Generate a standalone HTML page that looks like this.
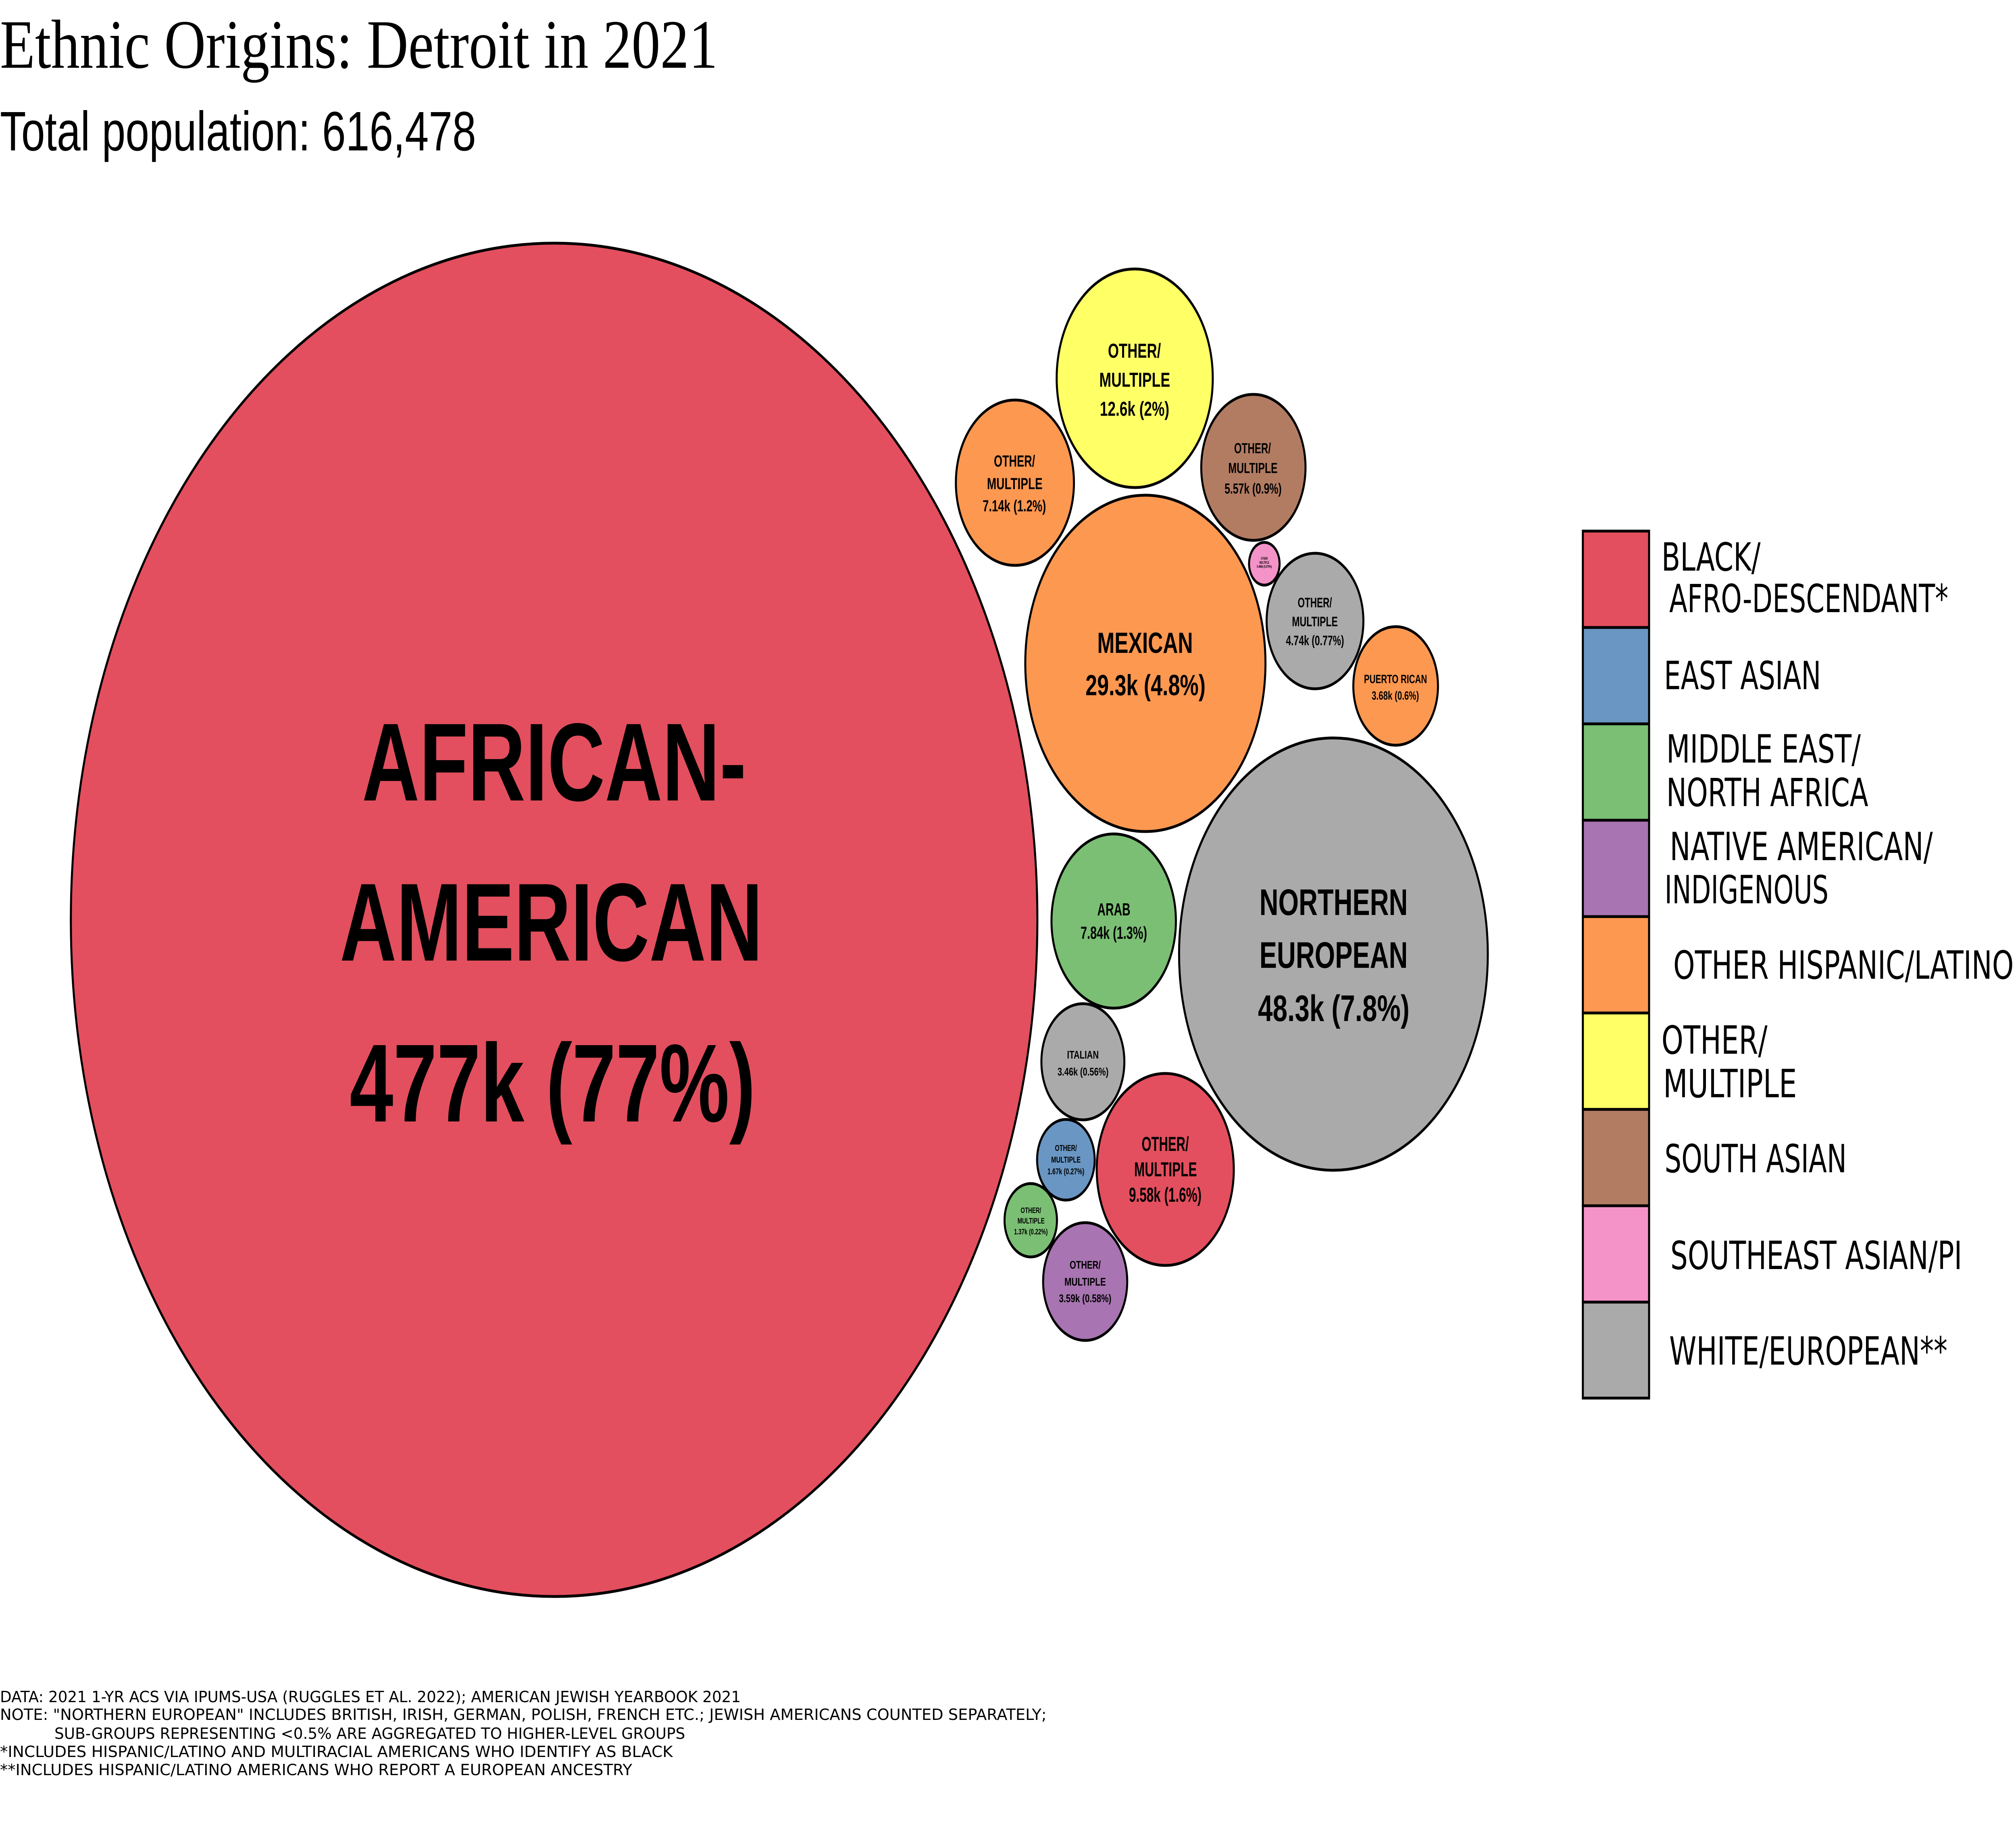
<!DOCTYPE html>
<html><head><meta charset="utf-8"><style>html,body{margin:0;padding:0;background:#fff;width:100%;height:100%;overflow:hidden}svg{display:block;width:100vw;height:100vh}</style></head>
<body>
<svg viewBox="0 0 7000 4543" preserveAspectRatio="none" xmlns="http://www.w3.org/2000/svg">
<rect width="7000" height="4543" fill="#fff"/>
<text x="0" y="168" font-family="Liberation Serif, serif" font-size="172" textLength="2492" lengthAdjust="spacingAndGlyphs">Ethnic Origins: Detroit in 2021</text>
<text x="0" y="373" font-family="Liberation Sans, sans-serif" font-size="138" textLength="1653" lengthAdjust="spacingAndGlyphs">Total population: 616,478</text>

<g stroke="#000" stroke-width="7">
<circle cx="1924" cy="2281" r="1678" fill="#e34f5e"/>
<circle cx="3940" cy="938" r="271" fill="#ffff66"/>
<circle cx="3524" cy="1197" r="205" fill="#fd9851"/>
<circle cx="4352" cy="1159" r="181" fill="#b27c63"/>
<circle cx="4390" cy="1398" r="53" fill="#f493c8"/>
<circle cx="4566" cy="1540" r="168" fill="#aaaaaa"/>
<circle cx="4846" cy="1701" r="147" fill="#fd9851"/>
<circle cx="3977" cy="1645" r="417" fill="#fd9851"/>
<circle cx="4630" cy="2366" r="536" fill="#aaaaaa"/>
<circle cx="3867" cy="2284" r="216" fill="#7bbf74"/>
<circle cx="3760" cy="2633" r="144" fill="#aaaaaa"/>
<circle cx="4046" cy="2900" r="238" fill="#e34f5e"/>
<circle cx="3701" cy="2876" r="100" fill="#6a96c3"/>
<circle cx="3579" cy="3026" r="91" fill="#7bbf74"/>
<circle cx="3768" cy="3178" r="146" fill="#a874b1"/>
</g>

<g font-family="Liberation Sans, Arial, sans-serif" font-weight="bold" fill="#000">
<text x="1257" y="1985" font-size="275" textLength="1334" lengthAdjust="spacingAndGlyphs">AFRICAN-</text>
<text x="1180" y="2382" font-size="275" textLength="1468" lengthAdjust="spacingAndGlyphs">AMERICAN</text>
<text x="1214" y="2781" font-size="275" textLength="1409" lengthAdjust="spacingAndGlyphs">477k (77%)</text>

<text x="3847" y="887" font-size="50" textLength="184" lengthAdjust="spacingAndGlyphs">OTHER/</text>
<text x="3817" y="959" font-size="50" textLength="246" lengthAdjust="spacingAndGlyphs">MULTIPLE</text>
<text x="3819" y="1031" font-size="50" textLength="241" lengthAdjust="spacingAndGlyphs">12.6k (2%)</text>

<text x="3451" y="1157" font-size="40" textLength="143" lengthAdjust="spacingAndGlyphs">OTHER/</text>
<text x="3427" y="1213" font-size="40" textLength="193" lengthAdjust="spacingAndGlyphs">MULTIPLE</text>
<text x="3412" y="1268" font-size="40" textLength="220" lengthAdjust="spacingAndGlyphs">7.14k (1.2%)</text>

<text x="4285" y="1124" font-size="36" textLength="128" lengthAdjust="spacingAndGlyphs">OTHER/</text>
<text x="4265" y="1173" font-size="36" textLength="171" lengthAdjust="spacingAndGlyphs">MULTIPLE</text>
<text x="4252" y="1224" font-size="36" textLength="198" lengthAdjust="spacingAndGlyphs">5.57k (0.9%)</text>

<text x="4378" y="1388" font-size="9" textLength="24" lengthAdjust="spacingAndGlyphs">OTHER/</text>
<text x="4373" y="1398" font-size="9" textLength="34" lengthAdjust="spacingAndGlyphs">MULTIPLE</text>
<text x="4364" y="1408" font-size="9" textLength="52" lengthAdjust="spacingAndGlyphs">0.488k (0.079%)</text>

<text x="4506" y="1506" font-size="34" textLength="119" lengthAdjust="spacingAndGlyphs">OTHER/</text>
<text x="4486" y="1553" font-size="34" textLength="159" lengthAdjust="spacingAndGlyphs">MULTIPLE</text>
<text x="4465" y="1600" font-size="34" textLength="202" lengthAdjust="spacingAndGlyphs">4.74k (0.77%)</text>

<text x="4736" y="1694" font-size="30" textLength="219" lengthAdjust="spacingAndGlyphs">PUERTO RICAN</text>
<text x="4763" y="1735" font-size="30" textLength="164" lengthAdjust="spacingAndGlyphs">3.68k (0.6%)</text>

<text x="3810" y="1619" font-size="72" textLength="332" lengthAdjust="spacingAndGlyphs">MEXICAN</text>
<text x="3769" y="1724" font-size="72" textLength="417" lengthAdjust="spacingAndGlyphs">29.3k (4.8%)</text>

<text x="4373" y="2269" font-size="92" textLength="515" lengthAdjust="spacingAndGlyphs">NORTHERN</text>
<text x="4373" y="2400" font-size="92" textLength="515" lengthAdjust="spacingAndGlyphs">EUROPEAN</text>
<text x="4368" y="2532" font-size="92" textLength="526" lengthAdjust="spacingAndGlyphs">48.3k (7.8%)</text>

<text x="3810" y="2270" font-size="44" textLength="115" lengthAdjust="spacingAndGlyphs">ARAB</text>
<text x="3752" y="2328" font-size="44" textLength="231" lengthAdjust="spacingAndGlyphs">7.84k (1.3%)</text>

<text x="3705" y="2625" font-size="28" textLength="110" lengthAdjust="spacingAndGlyphs">ITALIAN</text>
<text x="3672" y="2667" font-size="28" textLength="177" lengthAdjust="spacingAndGlyphs">3.46k (0.56%)</text>

<text x="3964" y="2854" font-size="50" textLength="164" lengthAdjust="spacingAndGlyphs">OTHER/</text>
<text x="3938" y="2917" font-size="50" textLength="218" lengthAdjust="spacingAndGlyphs">MULTIPLE</text>
<text x="3920" y="2980" font-size="50" textLength="252" lengthAdjust="spacingAndGlyphs">9.58k (1.6%)</text>

<text x="3663" y="2854" font-size="21" textLength="76" lengthAdjust="spacingAndGlyphs">OTHER/</text>
<text x="3650" y="2883" font-size="21" textLength="102" lengthAdjust="spacingAndGlyphs">MULTIPLE</text>
<text x="3637" y="2912" font-size="21" textLength="128" lengthAdjust="spacingAndGlyphs">1.67k (0.27%)</text>

<text x="3544" y="3008" font-size="19" textLength="71" lengthAdjust="spacingAndGlyphs">OTHER/</text>
<text x="3533" y="3034" font-size="19" textLength="94" lengthAdjust="spacingAndGlyphs">MULTIPLE</text>
<text x="3521" y="3061" font-size="19" textLength="117" lengthAdjust="spacingAndGlyphs">1.37k (0.22%)</text>

<text x="3714" y="3146" font-size="28" textLength="108" lengthAdjust="spacingAndGlyphs">OTHER/</text>
<text x="3696" y="3188" font-size="28" textLength="144" lengthAdjust="spacingAndGlyphs">MULTIPLE</text>
<text x="3677" y="3229" font-size="28" textLength="182" lengthAdjust="spacingAndGlyphs">3.59k (0.58%)</text>
</g>

<g stroke="#000" stroke-width="7">
<rect x="5496" y="1317" width="230" height="239" fill="#e34f5e"/>
<rect x="5496" y="1556" width="230" height="239" fill="#6a96c3"/>
<rect x="5496" y="1795" width="230" height="239" fill="#7bbf74"/>
<rect x="5496" y="2034" width="230" height="239" fill="#a874b1"/>
<rect x="5496" y="2273" width="230" height="239" fill="#fd9851"/>
<rect x="5496" y="2512" width="230" height="239" fill="#ffff66"/>
<rect x="5496" y="2751" width="230" height="239" fill="#b27c63"/>
<rect x="5496" y="2990" width="230" height="239" fill="#f493c8"/>
<rect x="5496" y="3229" width="230" height="238" fill="#aaaaaa"/>
</g>
<g font-family="DejaVu Sans, Liberation Sans, sans-serif" font-size="96" fill="#000">
<text x="5769" y="1415" textLength="344" lengthAdjust="spacingAndGlyphs">BLACK/</text>
<text x="5796" y="1518" textLength="969" lengthAdjust="spacingAndGlyphs">AFRO-DESCENDANT*</text>
<text x="5778" y="1709" textLength="545" lengthAdjust="spacingAndGlyphs">EAST ASIAN</text>
<text x="5786" y="1891" textLength="675" lengthAdjust="spacingAndGlyphs">MIDDLE EAST/</text>
<text x="5786" y="1999" textLength="701" lengthAdjust="spacingAndGlyphs">NORTH AFRICA</text>
<text x="5798" y="2133" textLength="913" lengthAdjust="spacingAndGlyphs">NATIVE AMERICAN/</text>
<text x="5780" y="2240" textLength="569" lengthAdjust="spacingAndGlyphs">INDIGENOUS</text>
<text x="5810" y="2427" textLength="1182" lengthAdjust="spacingAndGlyphs">OTHER HISPANIC/LATINO</text>
<text x="5769" y="2613" textLength="368" lengthAdjust="spacingAndGlyphs">OTHER/</text>
<text x="5775" y="2721" textLength="464" lengthAdjust="spacingAndGlyphs">MULTIPLE</text>
<text x="5780" y="2907" textLength="632" lengthAdjust="spacingAndGlyphs">SOUTH ASIAN</text>
<text x="5800" y="3147" textLength="1013" lengthAdjust="spacingAndGlyphs">SOUTHEAST ASIAN/PI</text>
<text x="5796" y="3384" textLength="966" lengthAdjust="spacingAndGlyphs">WHITE/EUROPEAN**</text>
</g>

<g font-family="DejaVu Sans, Liberation Sans, sans-serif" font-size="38" fill="#000">
<text x="0" y="4221" textLength="2572" lengthAdjust="spacingAndGlyphs">DATA: 2021 1-YR ACS VIA IPUMS-USA (RUGGLES ET AL. 2022); AMERICAN JEWISH YEARBOOK 2021</text>
<text x="0" y="4265" textLength="3634" lengthAdjust="spacingAndGlyphs">NOTE: "NORTHERN EUROPEAN" INCLUDES BRITISH, IRISH, GERMAN, POLISH, FRENCH ETC.; JEWISH AMERICANS COUNTED SEPARATELY;</text>
<text x="189" y="4312" textLength="2190" lengthAdjust="spacingAndGlyphs">SUB-GROUPS REPRESENTING &lt;0.5% ARE AGGREGATED TO HIGHER-LEVEL GROUPS</text>
<text x="0" y="4357" textLength="2336" lengthAdjust="spacingAndGlyphs">*INCLUDES HISPANIC/LATINO AND MULTIRACIAL AMERICANS WHO IDENTIFY AS BLACK</text>
<text x="0" y="4402" textLength="2195" lengthAdjust="spacingAndGlyphs">**INCLUDES HISPANIC/LATINO AMERICANS WHO REPORT A EUROPEAN ANCESTRY</text>
</g>
</svg>
</body></html>
